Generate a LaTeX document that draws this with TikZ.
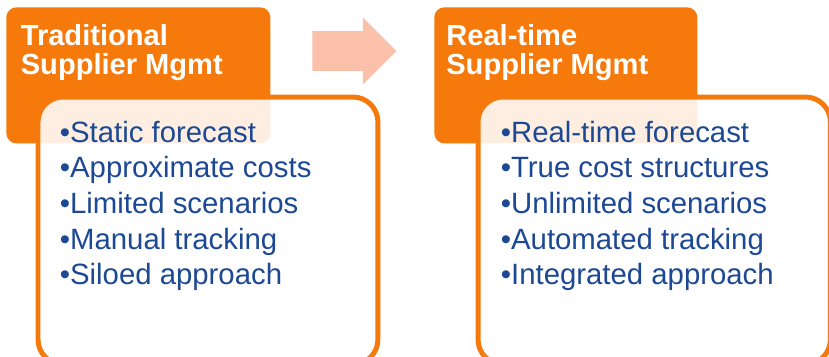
\documentclass[tikz,border=0pt]{standalone}
\usepackage{fontspec}
\setmainfont{Liberation Sans}
\usetikzlibrary{shapes.arrows,positioning}
\definecolor{mgmtorange}{RGB}{246,122,11}
\definecolor{itemblue}{RGB}{28,72,148}
\definecolor{arrowpink}{RGB}{251,192,170}
\tikzset{
  hdrbox/.style={ fill=mgmtorange, rounded corners=0.2cm, minimum width=5.28cm, minimum height=2.72cm, anchor=north west, inner sep=0 }
}
\tikzset{
  bodybox/.style={ draw=mgmtorange, line width=0.1cm, fill=white, fill opacity=0.88, rounded corners=0.5cm, minimum height=5.35cm, anchor=north west, inner sep=0 }
}
\tikzset{
  ttl/.style={ text=white, font=\fontsize{16.55pt}{16.5pt}\selectfont\bfseries, align=left, anchor=north west, inner sep=0 }
}
\tikzset{
  items/.style={ text=itemblue, font=\fontsize{16.7pt}{20.3pt}\selectfont, align=left, anchor=north west, inner sep=0 }
}
\tikzset{
  fwdarrow/.style={ single arrow, fill=arrowpink, minimum height=1.68cm, inner xsep=0, inner ysep=0.39cm, single arrow head extend=0.27cm, anchor=tail }
}

\begin{document}
\begin{tikzpicture}[x=0.02cm, y=-0.02cm]
  \useasboundingbox (0,0) rectangle (829,356);
  % headers
  \node[hdrbox] (hdrL) at (6,7) {};
  \node[hdrbox, minimum width=5.26cm] (hdrR) at (434,7) {};
  \node[ttl] (ttlL) at (20.5,24.5) {Traditional\\Supplier Mgmt};
  \node[ttl] (ttlR) at (446,24.5) {Real-time\\Supplier Mgmt};

  % arrow between the two
  \node[fwdarrow] (arr) at (312,51) {};

  % bodies
  \node[bodybox, minimum width=6.8cm] (bodyL) at (35.5,94.5) {};
  \node[bodybox, minimum width=7.05cm] (bodyR) at (475.5,94.5) {};

  \node[items] (itemsL) at (59.5,120.5) {\textbullet Static forecast\\\textbullet Approximate costs\\\textbullet Limited scenarios\\\textbullet Manual tracking\\\textbullet Siloed approach};
  \node[items] (itemsR) at (500.5,120.5) {\textbullet Real-time forecast\\\textbullet True cost structures\\\textbullet Unlimited scenarios\\\textbullet Automated tracking\\\textbullet Integrated approach};
\end{tikzpicture}
\end{document}
